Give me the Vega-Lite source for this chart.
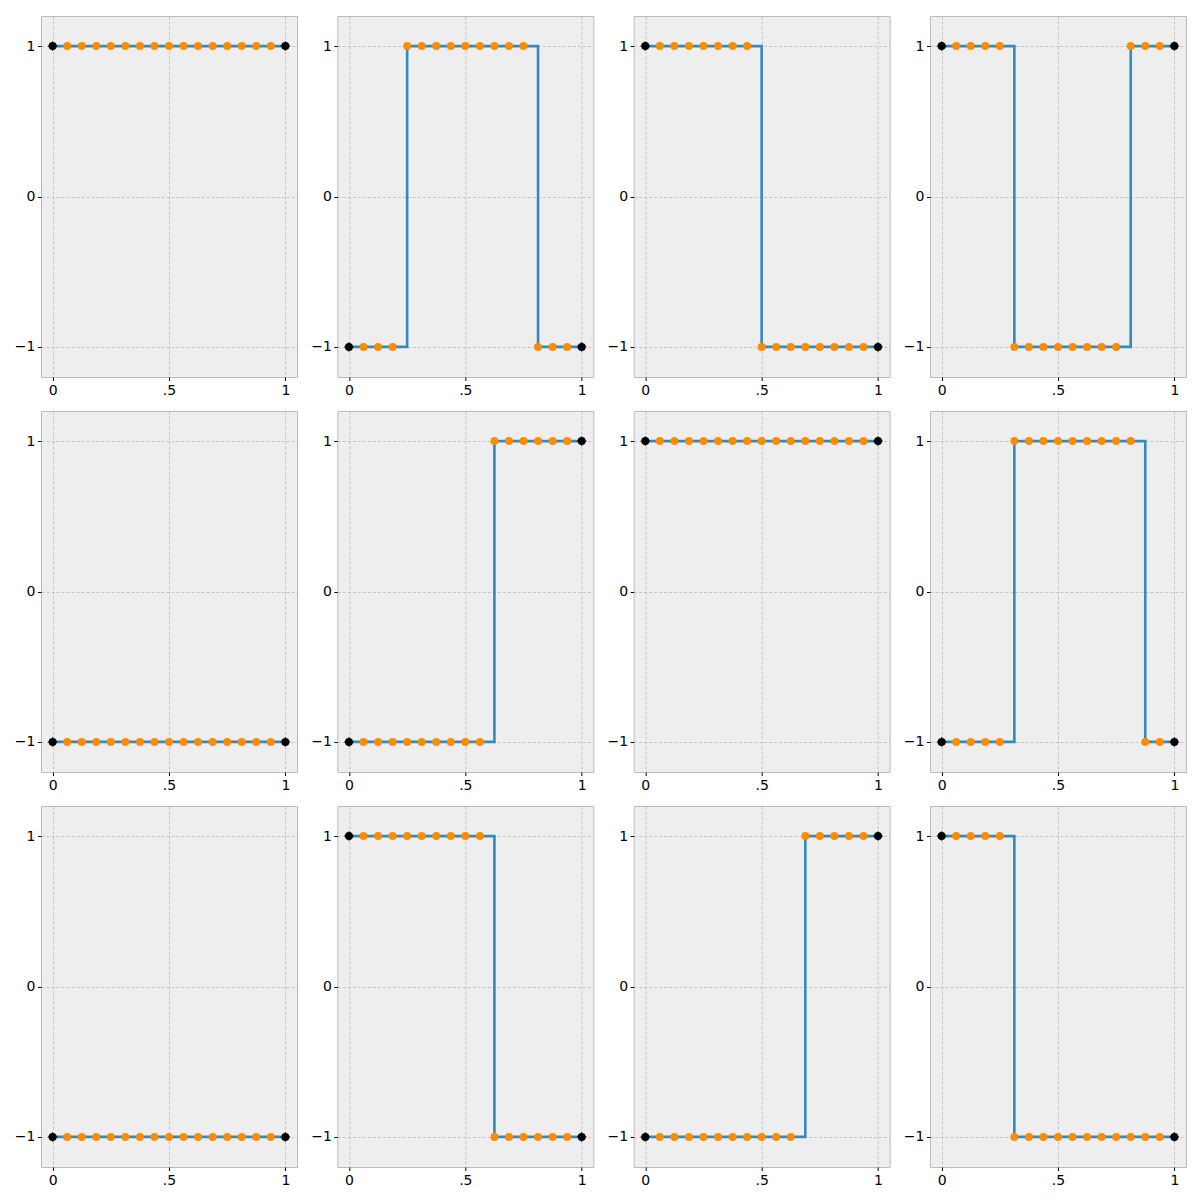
{
  "$schema": "https://vega.github.io/schema/vega-lite/v6.json",
  "padding": {"left": 13, "top": 15, "right": 5, "bottom": 5},
  "data": {"values": [
{"panel":1,"x":0,"y":1,"kind":"end"},{"panel":1,"x":0.0625,"y":1,"kind":"mid"},{"panel":1,"x":0.125,"y":1,"kind":"mid"},{"panel":1,"x":0.1875,"y":1,"kind":"mid"},{"panel":1,"x":0.25,"y":1,"kind":"mid"},{"panel":1,"x":0.3125,"y":1,"kind":"mid"},{"panel":1,"x":0.375,"y":1,"kind":"mid"},{"panel":1,"x":0.4375,"y":1,"kind":"mid"},{"panel":1,"x":0.5,"y":1,"kind":"mid"},{"panel":1,"x":0.5625,"y":1,"kind":"mid"},{"panel":1,"x":0.625,"y":1,"kind":"mid"},{"panel":1,"x":0.6875,"y":1,"kind":"mid"},{"panel":1,"x":0.75,"y":1,"kind":"mid"},{"panel":1,"x":0.8125,"y":1,"kind":"mid"},{"panel":1,"x":0.875,"y":1,"kind":"mid"},{"panel":1,"x":0.9375,"y":1,"kind":"mid"},{"panel":1,"x":1,"y":1,"kind":"end"},
{"panel":2,"x":0,"y":-1,"kind":"end"},{"panel":2,"x":0.0625,"y":-1,"kind":"mid"},{"panel":2,"x":0.125,"y":-1,"kind":"mid"},{"panel":2,"x":0.1875,"y":-1,"kind":"mid"},{"panel":2,"x":0.25,"y":1,"kind":"mid"},{"panel":2,"x":0.3125,"y":1,"kind":"mid"},{"panel":2,"x":0.375,"y":1,"kind":"mid"},{"panel":2,"x":0.4375,"y":1,"kind":"mid"},{"panel":2,"x":0.5,"y":1,"kind":"mid"},{"panel":2,"x":0.5625,"y":1,"kind":"mid"},{"panel":2,"x":0.625,"y":1,"kind":"mid"},{"panel":2,"x":0.6875,"y":1,"kind":"mid"},{"panel":2,"x":0.75,"y":1,"kind":"mid"},{"panel":2,"x":0.8125,"y":-1,"kind":"mid"},{"panel":2,"x":0.875,"y":-1,"kind":"mid"},{"panel":2,"x":0.9375,"y":-1,"kind":"mid"},{"panel":2,"x":1,"y":-1,"kind":"end"},
{"panel":3,"x":0,"y":1,"kind":"end"},{"panel":3,"x":0.0625,"y":1,"kind":"mid"},{"panel":3,"x":0.125,"y":1,"kind":"mid"},{"panel":3,"x":0.1875,"y":1,"kind":"mid"},{"panel":3,"x":0.25,"y":1,"kind":"mid"},{"panel":3,"x":0.3125,"y":1,"kind":"mid"},{"panel":3,"x":0.375,"y":1,"kind":"mid"},{"panel":3,"x":0.4375,"y":1,"kind":"mid"},{"panel":3,"x":0.5,"y":-1,"kind":"mid"},{"panel":3,"x":0.5625,"y":-1,"kind":"mid"},{"panel":3,"x":0.625,"y":-1,"kind":"mid"},{"panel":3,"x":0.6875,"y":-1,"kind":"mid"},{"panel":3,"x":0.75,"y":-1,"kind":"mid"},{"panel":3,"x":0.8125,"y":-1,"kind":"mid"},{"panel":3,"x":0.875,"y":-1,"kind":"mid"},{"panel":3,"x":0.9375,"y":-1,"kind":"mid"},{"panel":3,"x":1,"y":-1,"kind":"end"},
{"panel":4,"x":0,"y":1,"kind":"end"},{"panel":4,"x":0.0625,"y":1,"kind":"mid"},{"panel":4,"x":0.125,"y":1,"kind":"mid"},{"panel":4,"x":0.1875,"y":1,"kind":"mid"},{"panel":4,"x":0.25,"y":1,"kind":"mid"},{"panel":4,"x":0.3125,"y":-1,"kind":"mid"},{"panel":4,"x":0.375,"y":-1,"kind":"mid"},{"panel":4,"x":0.4375,"y":-1,"kind":"mid"},{"panel":4,"x":0.5,"y":-1,"kind":"mid"},{"panel":4,"x":0.5625,"y":-1,"kind":"mid"},{"panel":4,"x":0.625,"y":-1,"kind":"mid"},{"panel":4,"x":0.6875,"y":-1,"kind":"mid"},{"panel":4,"x":0.75,"y":-1,"kind":"mid"},{"panel":4,"x":0.8125,"y":1,"kind":"mid"},{"panel":4,"x":0.875,"y":1,"kind":"mid"},{"panel":4,"x":0.9375,"y":1,"kind":"mid"},{"panel":4,"x":1,"y":1,"kind":"end"},
{"panel":5,"x":0,"y":-1,"kind":"end"},{"panel":5,"x":0.0625,"y":-1,"kind":"mid"},{"panel":5,"x":0.125,"y":-1,"kind":"mid"},{"panel":5,"x":0.1875,"y":-1,"kind":"mid"},{"panel":5,"x":0.25,"y":-1,"kind":"mid"},{"panel":5,"x":0.3125,"y":-1,"kind":"mid"},{"panel":5,"x":0.375,"y":-1,"kind":"mid"},{"panel":5,"x":0.4375,"y":-1,"kind":"mid"},{"panel":5,"x":0.5,"y":-1,"kind":"mid"},{"panel":5,"x":0.5625,"y":-1,"kind":"mid"},{"panel":5,"x":0.625,"y":-1,"kind":"mid"},{"panel":5,"x":0.6875,"y":-1,"kind":"mid"},{"panel":5,"x":0.75,"y":-1,"kind":"mid"},{"panel":5,"x":0.8125,"y":-1,"kind":"mid"},{"panel":5,"x":0.875,"y":-1,"kind":"mid"},{"panel":5,"x":0.9375,"y":-1,"kind":"mid"},{"panel":5,"x":1,"y":-1,"kind":"end"},
{"panel":6,"x":0,"y":-1,"kind":"end"},{"panel":6,"x":0.0625,"y":-1,"kind":"mid"},{"panel":6,"x":0.125,"y":-1,"kind":"mid"},{"panel":6,"x":0.1875,"y":-1,"kind":"mid"},{"panel":6,"x":0.25,"y":-1,"kind":"mid"},{"panel":6,"x":0.3125,"y":-1,"kind":"mid"},{"panel":6,"x":0.375,"y":-1,"kind":"mid"},{"panel":6,"x":0.4375,"y":-1,"kind":"mid"},{"panel":6,"x":0.5,"y":-1,"kind":"mid"},{"panel":6,"x":0.5625,"y":-1,"kind":"mid"},{"panel":6,"x":0.625,"y":1,"kind":"mid"},{"panel":6,"x":0.6875,"y":1,"kind":"mid"},{"panel":6,"x":0.75,"y":1,"kind":"mid"},{"panel":6,"x":0.8125,"y":1,"kind":"mid"},{"panel":6,"x":0.875,"y":1,"kind":"mid"},{"panel":6,"x":0.9375,"y":1,"kind":"mid"},{"panel":6,"x":1,"y":1,"kind":"end"},
{"panel":7,"x":0,"y":1,"kind":"end"},{"panel":7,"x":0.0625,"y":1,"kind":"mid"},{"panel":7,"x":0.125,"y":1,"kind":"mid"},{"panel":7,"x":0.1875,"y":1,"kind":"mid"},{"panel":7,"x":0.25,"y":1,"kind":"mid"},{"panel":7,"x":0.3125,"y":1,"kind":"mid"},{"panel":7,"x":0.375,"y":1,"kind":"mid"},{"panel":7,"x":0.4375,"y":1,"kind":"mid"},{"panel":7,"x":0.5,"y":1,"kind":"mid"},{"panel":7,"x":0.5625,"y":1,"kind":"mid"},{"panel":7,"x":0.625,"y":1,"kind":"mid"},{"panel":7,"x":0.6875,"y":1,"kind":"mid"},{"panel":7,"x":0.75,"y":1,"kind":"mid"},{"panel":7,"x":0.8125,"y":1,"kind":"mid"},{"panel":7,"x":0.875,"y":1,"kind":"mid"},{"panel":7,"x":0.9375,"y":1,"kind":"mid"},{"panel":7,"x":1,"y":1,"kind":"end"},
{"panel":8,"x":0,"y":-1,"kind":"end"},{"panel":8,"x":0.0625,"y":-1,"kind":"mid"},{"panel":8,"x":0.125,"y":-1,"kind":"mid"},{"panel":8,"x":0.1875,"y":-1,"kind":"mid"},{"panel":8,"x":0.25,"y":-1,"kind":"mid"},{"panel":8,"x":0.3125,"y":1,"kind":"mid"},{"panel":8,"x":0.375,"y":1,"kind":"mid"},{"panel":8,"x":0.4375,"y":1,"kind":"mid"},{"panel":8,"x":0.5,"y":1,"kind":"mid"},{"panel":8,"x":0.5625,"y":1,"kind":"mid"},{"panel":8,"x":0.625,"y":1,"kind":"mid"},{"panel":8,"x":0.6875,"y":1,"kind":"mid"},{"panel":8,"x":0.75,"y":1,"kind":"mid"},{"panel":8,"x":0.8125,"y":1,"kind":"mid"},{"panel":8,"x":0.875,"y":-1,"kind":"mid"},{"panel":8,"x":0.9375,"y":-1,"kind":"mid"},{"panel":8,"x":1,"y":-1,"kind":"end"},
{"panel":9,"x":0,"y":-1,"kind":"end"},{"panel":9,"x":0.0625,"y":-1,"kind":"mid"},{"panel":9,"x":0.125,"y":-1,"kind":"mid"},{"panel":9,"x":0.1875,"y":-1,"kind":"mid"},{"panel":9,"x":0.25,"y":-1,"kind":"mid"},{"panel":9,"x":0.3125,"y":-1,"kind":"mid"},{"panel":9,"x":0.375,"y":-1,"kind":"mid"},{"panel":9,"x":0.4375,"y":-1,"kind":"mid"},{"panel":9,"x":0.5,"y":-1,"kind":"mid"},{"panel":9,"x":0.5625,"y":-1,"kind":"mid"},{"panel":9,"x":0.625,"y":-1,"kind":"mid"},{"panel":9,"x":0.6875,"y":-1,"kind":"mid"},{"panel":9,"x":0.75,"y":-1,"kind":"mid"},{"panel":9,"x":0.8125,"y":-1,"kind":"mid"},{"panel":9,"x":0.875,"y":-1,"kind":"mid"},{"panel":9,"x":0.9375,"y":-1,"kind":"mid"},{"panel":9,"x":1,"y":-1,"kind":"end"},
{"panel":10,"x":0,"y":1,"kind":"end"},{"panel":10,"x":0.0625,"y":1,"kind":"mid"},{"panel":10,"x":0.125,"y":1,"kind":"mid"},{"panel":10,"x":0.1875,"y":1,"kind":"mid"},{"panel":10,"x":0.25,"y":1,"kind":"mid"},{"panel":10,"x":0.3125,"y":1,"kind":"mid"},{"panel":10,"x":0.375,"y":1,"kind":"mid"},{"panel":10,"x":0.4375,"y":1,"kind":"mid"},{"panel":10,"x":0.5,"y":1,"kind":"mid"},{"panel":10,"x":0.5625,"y":1,"kind":"mid"},{"panel":10,"x":0.625,"y":-1,"kind":"mid"},{"panel":10,"x":0.6875,"y":-1,"kind":"mid"},{"panel":10,"x":0.75,"y":-1,"kind":"mid"},{"panel":10,"x":0.8125,"y":-1,"kind":"mid"},{"panel":10,"x":0.875,"y":-1,"kind":"mid"},{"panel":10,"x":0.9375,"y":-1,"kind":"mid"},{"panel":10,"x":1,"y":-1,"kind":"end"},
{"panel":11,"x":0,"y":-1,"kind":"end"},{"panel":11,"x":0.0625,"y":-1,"kind":"mid"},{"panel":11,"x":0.125,"y":-1,"kind":"mid"},{"panel":11,"x":0.1875,"y":-1,"kind":"mid"},{"panel":11,"x":0.25,"y":-1,"kind":"mid"},{"panel":11,"x":0.3125,"y":-1,"kind":"mid"},{"panel":11,"x":0.375,"y":-1,"kind":"mid"},{"panel":11,"x":0.4375,"y":-1,"kind":"mid"},{"panel":11,"x":0.5,"y":-1,"kind":"mid"},{"panel":11,"x":0.5625,"y":-1,"kind":"mid"},{"panel":11,"x":0.625,"y":-1,"kind":"mid"},{"panel":11,"x":0.6875,"y":1,"kind":"mid"},{"panel":11,"x":0.75,"y":1,"kind":"mid"},{"panel":11,"x":0.8125,"y":1,"kind":"mid"},{"panel":11,"x":0.875,"y":1,"kind":"mid"},{"panel":11,"x":0.9375,"y":1,"kind":"mid"},{"panel":11,"x":1,"y":1,"kind":"end"},
{"panel":12,"x":0,"y":1,"kind":"end"},{"panel":12,"x":0.0625,"y":1,"kind":"mid"},{"panel":12,"x":0.125,"y":1,"kind":"mid"},{"panel":12,"x":0.1875,"y":1,"kind":"mid"},{"panel":12,"x":0.25,"y":1,"kind":"mid"},{"panel":12,"x":0.3125,"y":-1,"kind":"mid"},{"panel":12,"x":0.375,"y":-1,"kind":"mid"},{"panel":12,"x":0.4375,"y":-1,"kind":"mid"},{"panel":12,"x":0.5,"y":-1,"kind":"mid"},{"panel":12,"x":0.5625,"y":-1,"kind":"mid"},{"panel":12,"x":0.625,"y":-1,"kind":"mid"},{"panel":12,"x":0.6875,"y":-1,"kind":"mid"},{"panel":12,"x":0.75,"y":-1,"kind":"mid"},{"panel":12,"x":0.8125,"y":-1,"kind":"mid"},{"panel":12,"x":0.875,"y":-1,"kind":"mid"},{"panel":12,"x":0.9375,"y":-1,"kind":"mid"},{"panel":12,"x":1,"y":-1,"kind":"end"}
  ]},
  "transform": [
    {"calculate": "floor((datum.panel - 1) / 4)", "as": "prow"},
    {"calculate": "(datum.panel - 1) % 4", "as": "pcol"}
  ],
  "facet": {
    "row": {"field": "prow", "type": "ordinal", "title": null, "header": null},
    "column": {"field": "pcol", "type": "ordinal", "title": null, "header": null}
  },
  "spacing": {"row": 34, "column": 40.33},
  "bounds": "flush",
  "resolve": {"axis": {"x": "independent", "y": "independent"}},
  "spec": {
    "width": 256,
    "height": 361,
    "encoding": {
      "x": {"field": "x", "type": "quantitative", "title": null,
            "scale": {"domain": [-0.05, 1.05], "nice": false, "zero": false},
            "axis": {"values": [0, 0.5, 1], "labelExpr": "datum.value == 0 ? '0' : datum.value == 1 ? '1' : '.5'"}},
      "y": {"field": "y", "type": "quantitative", "title": null,
            "scale": {"domain": [-1.2, 1.2], "nice": false, "zero": false},
            "axis": {"values": [-1, 0, 1], "labelExpr": "datum.value < 0 ? '\u22121' : datum.value > 0 ? '1' : '0'"}}
    },
    "layer": [
      {"mark": {"type": "line", "interpolate": "step-after", "color": "#348ABD", "strokeWidth": 2.6}},
      {"mark": {"type": "point", "filled": true, "opacity": 1, "size": 64, "shape": "circle", "strokeWidth": 0},
       "encoding": {"color": {"field": "kind", "type": "nominal", "legend": null,
                              "scale": {"domain": ["end", "mid"], "range": ["#000000", "#FF8C00"]}}}},
      {"transform": [{"filter": "datum.kind == 'end'"}],
       "mark": {"type": "point", "filled": false, "opacity": 1, "size": 90, "shape": "M-1,0L1,0M0,-1L0,1", "color": "#000000", "strokeWidth": 1}}
    ]
  },
  "config": {
    "view": {"fill": "#eeeeee", "stroke": "#bcbcbc", "strokeWidth": 1},
    "axis": {"domain": false, "grid": true, "gridColor": "#b2b2b2", "gridDash": [3, 2], "gridWidth": 0.7,
             "ticks": true, "tickColor": "#000000", "tickSize": 3.5, "tickWidth": 1,
             "labelFont": "DejaVu Sans", "labelFontSize": 14, "labelColor": "#000000", "labelPadding": 2.5}
  }
}
